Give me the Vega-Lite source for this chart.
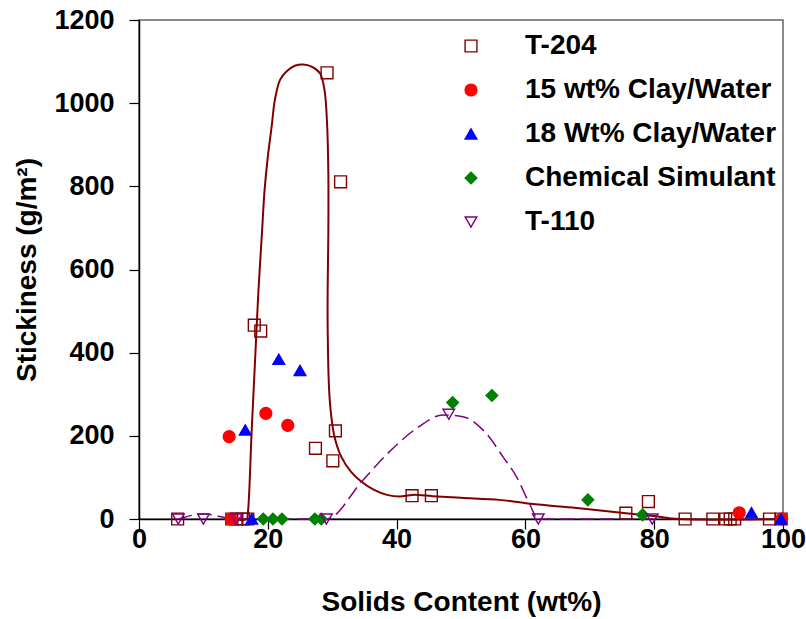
{
  "$schema": "https://vega.github.io/schema/vega-lite/v6.json",
  "width": 644,
  "height": 499,
  "autosize": "none",
  "padding": {"left": 139, "top": 20, "right": 23, "bottom": 100},
  "background": "white",
  "config": {
    "font": "Liberation Sans",
    "view": {"stroke": "#666666", "strokeWidth": 1.5},
    "axis": {
      "grid": false,
      "labelFlush": false,
      "domainColor": "#000000",
      "domainWidth": 1.5,
      "tickColor": "#000000",
      "tickWidth": 1.2,
      "tickSize": 10,
      "labelFont": "Liberation Sans",
      "labelFontWeight": "bold",
      "labelFontSize": 27,
      "labelColor": "#000000",
      "titleFont": "Liberation Sans",
      "titleFontWeight": "bold",
      "titleFontSize": 28,
      "titleColor": "#000000"
    },
    "legend": {
      "title": null,
      "orient": "none",
      "legendX": 318,
      "legendY": 12,
      "labelFont": "Liberation Sans",
      "labelFontWeight": "bold",
      "labelFontSize": 28,
      "labelColor": "#000000",
      "labelLimit": 400,
      "labelOffset": 40,
      "rowPadding": 16,
      "symbolStrokeWidth": 1.4
    }
  },
  "datasets": {
    "t204fit": [
      {"i": 1, "x": 14.0, "y": 0},
      {"i": 2, "x": 16.7, "y": 0},
      {"i": 3, "x": 16.9, "y": 14},
      {"i": 4, "x": 17.5, "y": 214},
      {"i": 5, "x": 18.0, "y": 374},
      {"i": 6, "x": 18.5, "y": 535},
      {"i": 7, "x": 19.1, "y": 690},
      {"i": 8, "x": 19.5, "y": 791},
      {"i": 9, "x": 20.0, "y": 871},
      {"i": 10, "x": 20.6, "y": 944},
      {"i": 11, "x": 21.1, "y": 1008},
      {"i": 12, "x": 21.9, "y": 1056},
      {"i": 13, "x": 22.9, "y": 1076},
      {"i": 14, "x": 24.2, "y": 1090},
      {"i": 15, "x": 25.5, "y": 1093},
      {"i": 16, "x": 26.8, "y": 1088},
      {"i": 17, "x": 28.1, "y": 1072},
      {"i": 18, "x": 28.8, "y": 1032},
      {"i": 19, "x": 29.2, "y": 952},
      {"i": 20, "x": 29.4, "y": 831},
      {"i": 21, "x": 29.4, "y": 687},
      {"i": 22, "x": 29.3, "y": 560},
      {"i": 23, "x": 29.3, "y": 455},
      {"i": 24, "x": 29.6, "y": 290},
      {"i": 25, "x": 30.3, "y": 202},
      {"i": 26, "x": 31.4, "y": 150},
      {"i": 27, "x": 32.9, "y": 114},
      {"i": 28, "x": 34.5, "y": 90},
      {"i": 29, "x": 36.5, "y": 70},
      {"i": 30, "x": 38.5, "y": 58},
      {"i": 31, "x": 40.5, "y": 54},
      {"i": 32, "x": 42.5, "y": 58},
      {"i": 33, "x": 45.6, "y": 55},
      {"i": 34, "x": 50.0, "y": 51},
      {"i": 35, "x": 56.0, "y": 46},
      {"i": 36, "x": 60.1, "y": 38},
      {"i": 37, "x": 64.0, "y": 32},
      {"i": 38, "x": 68.4, "y": 26},
      {"i": 39, "x": 75.6, "y": 14},
      {"i": 40, "x": 80.0, "y": 7},
      {"i": 41, "x": 83.9, "y": 0},
      {"i": 42, "x": 100.0, "y": 0}
    ],
    "t110line": [
      {"x": 6.1, "y": 0},
      {"x": 10.0, "y": 12},
      {"x": 15.1, "y": 0},
      {"x": 29.1, "y": 0},
      {"x": 34.8, "y": 94},
      {"x": 38.9, "y": 162},
      {"x": 43.1, "y": 218},
      {"x": 47.2, "y": 250},
      {"x": 50.3, "y": 246},
      {"x": 53.9, "y": 206},
      {"x": 56.5, "y": 150},
      {"x": 58.6, "y": 102},
      {"x": 60.6, "y": 38},
      {"x": 62.0, "y": 0},
      {"x": 79.7, "y": 0}
    ],
    "samples": [
      {"series": "T-204", "x": 6.0, "y": 0},
      {"series": "T-204", "x": 14.4, "y": 0},
      {"series": "T-204", "x": 15.2, "y": 0},
      {"series": "T-204", "x": 16.2, "y": 0},
      {"series": "T-204", "x": 16.9, "y": 0},
      {"series": "T-204", "x": 17.9, "y": 466},
      {"series": "T-204", "x": 18.9, "y": 452},
      {"series": "T-204", "x": 27.4, "y": 170},
      {"series": "T-204", "x": 29.2, "y": 1073},
      {"series": "T-204", "x": 30.1, "y": 140},
      {"series": "T-204", "x": 30.5, "y": 212},
      {"series": "T-204", "x": 31.3, "y": 811},
      {"series": "T-204", "x": 42.4, "y": 56},
      {"series": "T-204", "x": 45.4, "y": 56},
      {"series": "T-204", "x": 75.6, "y": 14},
      {"series": "T-204", "x": 79.1, "y": 42},
      {"series": "T-204", "x": 84.8, "y": 0},
      {"series": "T-204", "x": 89.1, "y": 0},
      {"series": "T-204", "x": 91.1, "y": 0},
      {"series": "T-204", "x": 91.8, "y": 0},
      {"series": "T-204", "x": 92.5, "y": 0},
      {"series": "T-204", "x": 97.9, "y": 0},
      {"series": "T-204", "x": 99.7, "y": 0},
      {"series": "15 wt% Clay/Water", "x": 14.0, "y": 198},
      {"series": "15 wt% Clay/Water", "x": 19.7, "y": 254},
      {"series": "15 wt% Clay/Water", "x": 23.1, "y": 225},
      {"series": "15 wt% Clay/Water", "x": 14.3, "y": 0},
      {"series": "15 wt% Clay/Water", "x": 93.2, "y": 15},
      {"series": "15 wt% Clay/Water", "x": 99.8, "y": 0},
      {"series": "18 Wt% Clay/Water", "x": 16.5, "y": 214},
      {"series": "18 Wt% Clay/Water", "x": 21.7, "y": 384},
      {"series": "18 Wt% Clay/Water", "x": 25.0, "y": 357},
      {"series": "18 Wt% Clay/Water", "x": 17.5, "y": 0},
      {"series": "18 Wt% Clay/Water", "x": 95.1, "y": 15},
      {"series": "18 Wt% Clay/Water", "x": 99.7, "y": 0},
      {"series": "Chemical Simulant", "x": 19.3, "y": 0},
      {"series": "Chemical Simulant", "x": 20.8, "y": 0},
      {"series": "Chemical Simulant", "x": 22.2, "y": 0},
      {"series": "Chemical Simulant", "x": 27.3, "y": 0},
      {"series": "Chemical Simulant", "x": 28.3, "y": 0},
      {"series": "Chemical Simulant", "x": 48.7, "y": 280},
      {"series": "Chemical Simulant", "x": 54.8, "y": 297},
      {"series": "Chemical Simulant", "x": 69.7, "y": 46},
      {"series": "Chemical Simulant", "x": 78.2, "y": 10},
      {"series": "T-110", "x": 6.1, "y": 0},
      {"series": "T-110", "x": 10.0, "y": 0},
      {"series": "T-110", "x": 15.1, "y": 0},
      {"series": "T-110", "x": 29.1, "y": 0},
      {"series": "T-110", "x": 48.1, "y": 252},
      {"series": "T-110", "x": 62.0, "y": 0},
      {"series": "T-110", "x": 79.7, "y": 0}
    ]
  },
  "encoding": {
    "x": {
      "field": "x",
      "type": "quantitative",
      "scale": {"domain": [0, 100], "nice": false},
      "axis": {
        "title": "Solids Content (wt%)",
        "values": [0, 20, 40, 60, 80, 100],
        "format": "d",
        "labelPadding": -3,
        "titlePadding": 36
      }
    },
    "y": {
      "field": "y",
      "type": "quantitative",
      "scale": {"domain": [0, 1200], "nice": false},
      "axis": {
        "title": "Stickiness (g/m²)",
        "values": [0, 200, 400, 600, 800, 1000, 1200],
        "format": "d",
        "labelPadding": 15,
        "titlePadding": 12
      }
    }
  },
  "layer": [
    {
      "data": {"name": "t204fit"},
      "mark": {"type": "line", "color": "#800000", "strokeWidth": 2, "interpolate": "catmull-rom"},
      "encoding": {"order": {"field": "i", "type": "quantitative"}}
    },
    {
      "data": {"name": "t110line"},
      "mark": {"type": "line", "color": "#800080", "strokeWidth": 1.5, "strokeDash": [14, 6], "interpolate": "monotone"},
      "encoding": {}
    },
    {
      "data": {"name": "samples"},
      "mark": {"type": "point", "strokeWidth": 1.4, "opacity": 1},
      "encoding": {
        "shape": {
          "field": "series",
          "type": "nominal",
          "scale": {
            "domain": ["T-204", "15 wt% Clay/Water", "18 Wt% Clay/Water", "Chemical Simulant", "T-110"],
            "range": ["square", "circle", "triangle-up", "diamond", "triangle-down"]
          }
        },
        "stroke": {
          "field": "series",
          "type": "nominal",
          "scale": {
            "domain": ["T-204", "15 wt% Clay/Water", "18 Wt% Clay/Water", "Chemical Simulant", "T-110"],
            "range": ["#800000", "#FF0000", "#0000FF", "#008000", "#800080"]
          }
        },
        "fill": {
          "field": "series",
          "type": "nominal",
          "scale": {
            "domain": ["T-204", "15 wt% Clay/Water", "18 Wt% Clay/Water", "Chemical Simulant", "T-110"],
            "range": ["transparent", "#FF0000", "#0000FF", "#008000", "transparent"]
          }
        },
        "size": {
          "field": "series",
          "type": "nominal",
          "scale": {
            "domain": ["T-204", "15 wt% Clay/Water", "18 Wt% Clay/Water", "Chemical Simulant", "T-110"],
            "range": [140, 135, 170, 190, 175]
          }
        }
      }
    }
  ]
}
